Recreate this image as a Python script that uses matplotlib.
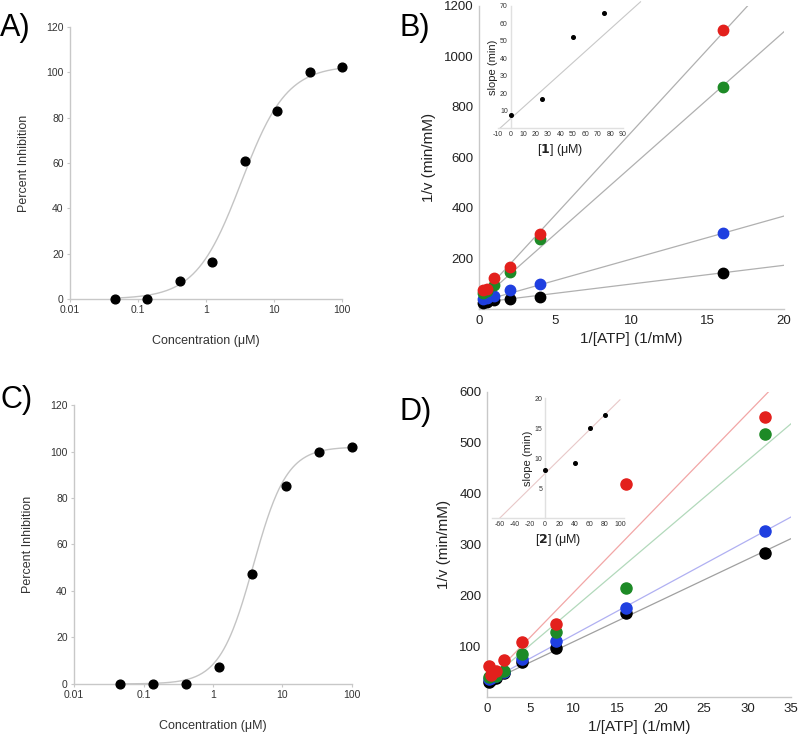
#!/usr/bin/env python3
# Four-panel figure: dose-response curves (A, C) and Lineweaver-Burk plots (B, D)
import numpy as np
import matplotlib.pyplot as plt

plt.rcParams['font.family'] = ['Liberation Sans', 'DejaVu Sans']
plt.rcParams['axes.unicode_minus'] = False

# dose-response data (3-fold dilution series, uM)
conc = [0.0457, 0.137, 0.412, 1.23, 3.70, 11.1, 33.3, 100.0]
inhib_a = [0.0, 0.0, 8.0, 16.5, 61.0, 83.0, 100.0, 102.5]
inhib_c = [0.0, 0.0, 0.0, 7.5, 47.5, 85.0, 100.0, 102.0]
# Hill fit parameters: (top, IC50, hill)
fit_a = (103.0, 3.3, 1.3)
fit_c = (102.0, 3.8, 1.8)

# Lineweaver-Burk, panel B
atp_b = [0.25, 0.5, 1, 2, 4, 16]
lb_b = {
    'red':   [75, 79, 123, 167, 295, 1105],
    'green': [63, 70, 95, 146, 277, 880],
    'blue':  [40, 42, 52, 75, 100, 301],
    'black': [25, 26, 35, 40, 49, 143],
}
lines_b = {  # intercept, slope
    'red': (45, 65.6), 'green': (30, 53.4), 'blue': (28, 17.0), 'black': (25, 7.4),
}
inh_b = [0, 25, 50, 75]
slope_b = [7.5, 16.8, 52.0, 66.0]
inset_line_b = (5.3, 0.645)

# Lineweaver-Burk, panel D
atp_d = [0.25, 0.5, 1, 2, 4, 8, 16, 32]
lb_d = {
    'red':   [61, 44, 52, 73, 109, 143, 419, 551],
    'green': [40, 44, 42, 52, 85, 128, 214, 518],
    'blue':  [35, 38, 42, 50, 75, 110, 175, 327],
    'black': [30, 33, 38, 47, 69, 96, 165, 283],
}
lines_d = {
    'red': (30, 17.6), 'green': (30, 14.5), 'blue': (30, 9.26), 'black': (28, 8.1),
}
inh_d = [0, 40, 60, 80]
slope_d = [8.0, 9.2, 15.0, 17.2]
inset_line_d = (7.4, 0.123)

dot_colors = {'red': '#e3201c', 'green': '#1d8a26', 'blue': '#1f3fe0', 'black': '#000000'}
line_b_color = '#b0b0b0'
line_d_colors = {'red': '#f2a6a6', 'green': '#b2d9bb', 'blue': '#b0b0f2', 'black': '#a0a0a0'}

SPINE = '#c8c8c8'
TXT = '#333333'


def style(ax, size):
    for s in ('top', 'right'):
        ax.spines[s].set_visible(False)
    for s in ('left', 'bottom'):
        ax.spines[s].set_color(SPINE)
        ax.spines[s].set_linewidth(1.0)
    ax.tick_params(length=2.5, color=SPINE, labelsize=size, labelcolor=TXT, pad=2)


def dose_panel(rect, y, fit, tag, tagpos):
    ax = fig.add_axes(rect)
    top, ic50, n = fit
    xs = np.logspace(np.log10(conc[0]), 2, 300)
    ax.plot(xs, top * xs**n / (ic50**n + xs**n), color='#c4c4c4', lw=1.0, zorder=1)
    ax.plot(conc, y, 'o', color='black', ms=6.3, zorder=3, clip_on=False)
    ax.set_xscale('log')
    ax.set_xlim(0.01, 100)
    ax.set_ylim(0, 120)
    ax.set_xticks([0.01, 0.1, 1, 10, 100])
    ax.set_xticklabels(['0.01', '0.1', '1', '10', '100'])
    ax.minorticks_off()
    ax.set_yticks(range(0, 121, 20))
    style(ax, 7.5)
    ax.set_xlabel('Concentration (\u03bcM)', fontsize=9, color=TXT, labelpad=14)
    ax.set_ylabel('Percent Inhibition', fontsize=9, color=TXT, labelpad=12)
    fig.text(*tagpos, tag, fontsize=22, va='center', ha='left')
    return ax


def lb_panel(rect, x, data, lines, lcolors, xmax, ymax, ystep, ms):
    ax = fig.add_axes(rect)
    xs = np.array([0, xmax])
    for k, (b0, b1) in lines.items():
        ax.plot(xs, b0 + b1 * xs, color=lcolors[k], lw=0.9, zorder=1)
    for k in ['black', 'blue', 'green', 'red']:
        ax.plot(x, data[k], 'o', color=dot_colors[k], ms=ms, zorder=3, clip_on=False)
    ax.set_xlim(0, xmax)
    ax.set_ylim(0, ymax)
    ax.set_yticks(range(ystep, ymax + 1, ystep))
    style(ax, 9.5)
    ax.tick_params(labelcolor='#222222', length=0, pad=4)
    ax.set_xlabel('1/[ATP] (1/mM)', fontsize=11, color='#222222', labelpad=4)
    ax.set_ylabel('1/v (min/mM)', fontsize=11, color='#222222', labelpad=6)
    return ax


def inset(rect, x, y, line, xlim, xticks, ylim, yticks, lcolor, num, line_x):
    ax = fig.add_axes(rect)
    ax.patch.set_alpha(0)
    ax.spines['left'].set_position(('data', 0))
    xs = np.array(line_x)
    ax.plot(xs, line[0] + line[1] * xs, color=lcolor, lw=0.8, zorder=1, clip_on=False)
    ax.plot(x, y, 'o', color='black', ms=2.6, zorder=3, clip_on=False)
    ax.set_xlim(*xlim)
    ax.set_ylim(*ylim)
    ax.set_xticks(xticks)
    ax.set_yticks(yticks)
    style(ax, 5)
    ax.spines['left'].set_color('#e0e0e0')
    ax.spines['bottom'].set_color('#e0e0e0')
    ax.tick_params(length=0, pad=2, labelcolor='#333333')
    ax.set_xlabel('[$\\mathbf{' + num + '}$] (\u03bcM)', fontsize=9, color='#222222', labelpad=3)
    ax.set_ylabel('slope (min)', fontsize=8, color='#222222', labelpad=1)
    return ax


fig = plt.figure(figsize=(8.0, 7.36), dpi=100)

dose_panel([0.0875, 0.5938, 0.34, 0.3696], inhib_a, fit_a, 'A)', (0.0, 0.962))
dose_panel([0.0925, 0.0707, 0.3475, 0.379], inhib_c, fit_c, 'C)', (0.0, 0.457))

lb_panel([0.599, 0.5802, 0.381, 0.4117], atp_b, lb_b, lines_b,
         {k: line_b_color for k in lines_b}, 20, 1200, 200, 7.5)
fig.text(0.5, 0.962, 'B)', fontsize=22, va='center', ha='left')
inset([0.6225, 0.8261, 0.15625, 0.1658], inh_b, slope_b, inset_line_b,
      (-10, 90), range(-10, 91, 10), (0, 70), range(10, 71, 10), '#c8c8c8', '1',
      [-8.2, 104])

lb_panel([0.60875, 0.053, 0.38, 0.4144], atp_d, lb_d, lines_d, line_d_colors,
         35, 600, 100, 8)
fig.text(0.5, 0.44, 'D)', fontsize=22, va='center', ha='left')
inset([0.6156, 0.2962, 0.164, 0.163], inh_d, slope_d, inset_line_d,
      (-70, 105), range(-60, 101, 20), (0, 20), range(5, 21, 5), '#e8c8c8', '2',
      [-60, 100])

fig.savefig('out.png', dpi=100)
